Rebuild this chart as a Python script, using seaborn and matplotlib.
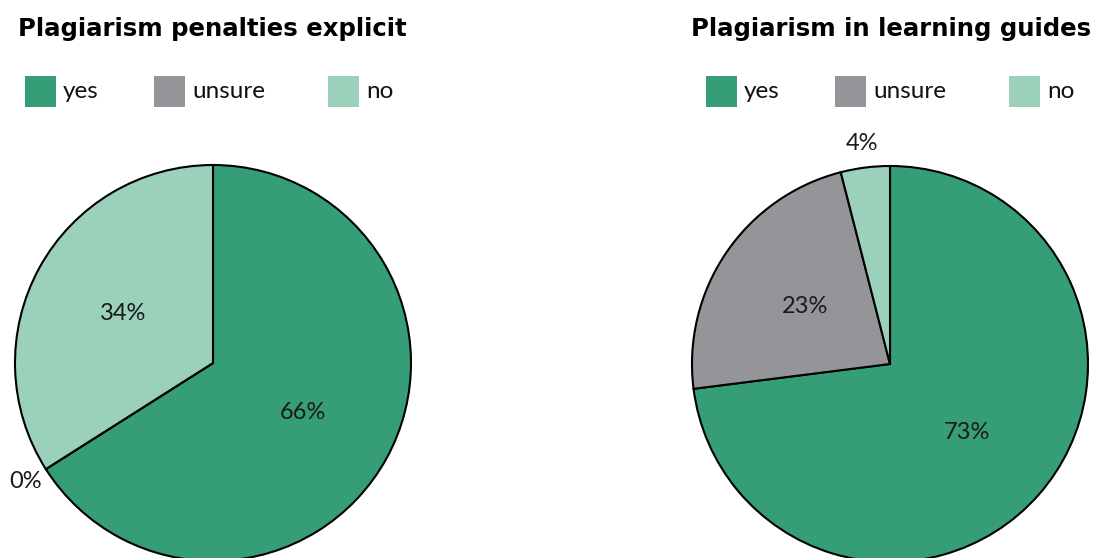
import numpy as np
import matplotlib
matplotlib.use("Agg")
import matplotlib.pyplot as plt
from matplotlib.patches import Rectangle
import seaborn as sns

categories = ["yes", "unsure", "no"]
titles = ["Plagiarism penalties explicit", "Plagiarism in learning guides"]
penalties_values = [66, 0, 34]
guides_values = [73, 23, 4]
colors = ["#369e77", "#939598", "#9bd0bb"]

sns.set_theme(style="white")
plt.rcParams['font.family'] = ['Lato', 'DejaVu Sans']

W, H = 1100, 558
fig = plt.figure(figsize=(W / 100, H / 100), dpi=100)

R = 198
panels = [
    dict(values=penalties_values, title=titles[0], cx=213, cy=363, tx=18, lx=25),
    dict(values=guides_values, title=titles[1], cx=890, cy=364, tx=691, lx=706),
]
legend_offsets = [0, 129, 303]

for p in panels:
    ax = fig.add_axes([(p["cx"] - R) / W, (H - p["cy"] - R) / H, 2 * R / W, 2 * R / H])
    vals = p["values"]
    ax.pie(vals, colors=colors, startangle=90, counterclock=False, radius=1,
           wedgeprops=dict(edgecolor="black", linewidth=1.5))
    ax.set_xlim(-1, 1)
    ax.set_ylim(-1, 1)
    ax.set_aspect("equal")
    ax.axis("off")
    total = sum(vals)
    cum = 0
    for v in vals:
        mid = 90 - (cum + v / 2) / total * 360
        cum += v
        r = 0.52 if v >= 10 else 1.12
        ang = np.deg2rad(mid)
        ax.text(r * np.cos(ang), r * np.sin(ang), f"{v}%", ha="center", va="center",
                fontsize=17, color="#1a1a1a", clip_on=False)
    fig.text(p["tx"] / W, 1 - 29 / H, p["title"], ha="left", va="center",
             fontsize=17.6, fontweight="bold", color="#000000",
             family=["DejaVu Sans"])
    for off, cat, col in zip(legend_offsets, categories, colors):
        x0 = p["lx"] + off
        fig.patches.append(Rectangle((x0 / W, 1 - 107 / H), 31 / W, 31 / H,
                                     transform=fig.transFigure, facecolor=col,
                                     edgecolor="none"))
        fig.text((x0 + 38) / W, 1 - 91 / H, cat, ha="left", va="center",
                 fontsize=17.5, color="#111111")

fig.savefig("out.png", dpi=100)
